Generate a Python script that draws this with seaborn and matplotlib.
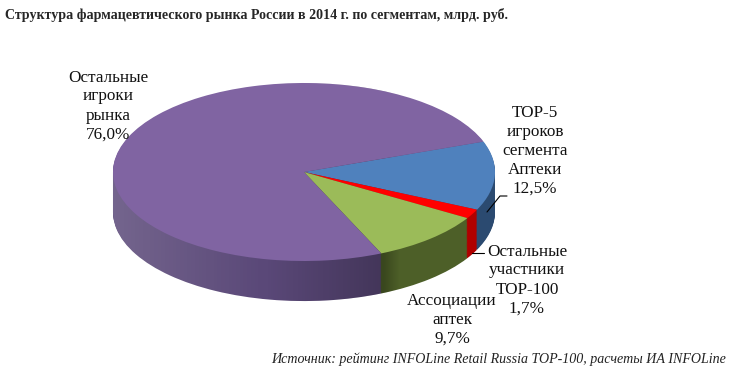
import matplotlib
matplotlib.use("Agg")
import matplotlib.pyplot as plt
from matplotlib.patches import Polygon
import seaborn as sns
import numpy as np

# ---- data ----
categories = ["TOP-5\nигроков\nсегмента\nАптеки", "Остальные\nучастники\nTOP-100",
              "Ассоциации\nаптек", "Остальные\nигроки\nрынка"]
shares = [12.5, 1.7, 9.7, 76.0]
share_labels = ["12,5%", "1,7%", "9,7%", "76,0%"]
top_colors = ["#4F81BD", "#FF0000", "#9BBB59", "#8064A2"]
side_colors = ["#2B4A70", "#B00000", "#4D5F28", "#5A4878"]

title = "Структура фармацевтического рынка России в 2014 г. по сегментам, млрд. руб."
source = "Источник: рейтинг INFOLine Retail Russia TOP-100, расчеты ИА INFOLine"

sns.set_theme(style="white")
plt.rcParams['font.family'] = ['Liberation Serif', 'DejaVu Serif']

W, H = 730, 369
fig = plt.figure(figsize=(W / 100, H / 100), dpi=100)
ax = fig.add_axes([0, 0, 1, 1])

start = 20
depth = 0.45
nlayers = 45
for k in range(nlayers, 0, -1):
    ax.pie(shares, colors=side_colors, startangle=start, counterclock=False,
           center=(0, -depth * k / nlayers), wedgeprops=dict(linewidth=0))

# shading of the side (lighter at left, darker toward the front-right)
t = np.linspace(np.pi, 0, 200)
upper = np.column_stack([np.cos(t), np.sin(t)])
lower = np.column_stack([np.cos(t[::-1] + np.pi), np.sin(t[::-1] + np.pi) - depth])
hull = Polygon(np.vstack([upper[::-1], lower]), closed=True, transform=ax.transData,
               facecolor="none", edgecolor="none")
ax.add_patch(hull)
xs = np.linspace(-1, 1, 400)
rgba = np.zeros((2, xs.size, 4))
light = np.clip((-0.2 - xs) / 0.8, 0, 1) * 0.16
dark = np.clip((xs + 0.2) / 0.6, 0, 1) * np.clip((0.5 - xs) / 0.08, 0, 1) * 0.25
rgba[..., :3] = np.where(light[None, :, None] > 0, 1.0, 0.0)
rgba[..., 3] = (light + dark)[None, :]
im = ax.imshow(rgba, extent=(-1, 1, -1 - depth, 1), aspect='auto', zorder=1.5,
               interpolation='bilinear')
im.set_clip_path(hull)

ax.pie(shares, colors=top_colors, startangle=start, counterclock=False,
       center=(0, 0), wedgeprops=dict(linewidth=0, zorder=3))

# pixel geometry of pie: centre (304,172), rx=191, ry=89
cx, cy, rx, ry = 304, 172, 191, 89
ax.set_aspect('auto')
ax.set_xlim(-cx / rx, (W - cx) / rx)
ax.set_ylim(-(H - cy) / ry, cy / ry)
ax.axis('off')

def ftext(x, y, s, **kw):
    fig.text(x / W, 1 - y / H, s, **kw)

fs = 12.3
lab_pos = [(535, 151), (527, 280), (452, 320), (108, 106)]
for (x, y), c, p in zip(lab_pos, categories, share_labels):
    ftext(x, y, c + "\n" + p, ha="center", va="center", fontsize=fs,
          linespacing=1.25, color="#111111")

# leader lines
fig.add_artist(plt.Line2D([487 / W, 500 / W, 507 / W],
                          [1 - 212 / H, 1 - 196 / H, 1 - 196 / H],
                          color="black", lw=0.8))
fig.add_artist(plt.Line2D([472 / W, 484 / W], [1 - 253 / H, 1 - 253 / H],
                          color="black", lw=0.8))

ftext(5, 15, title, ha="left", va="center", fontsize=10.1, fontweight="bold")
ftext(726, 359, source, ha="right", va="center", fontsize=10.1, style="italic",
      color="#222222")

fig.savefig("out.png", dpi=100, facecolor="white")
